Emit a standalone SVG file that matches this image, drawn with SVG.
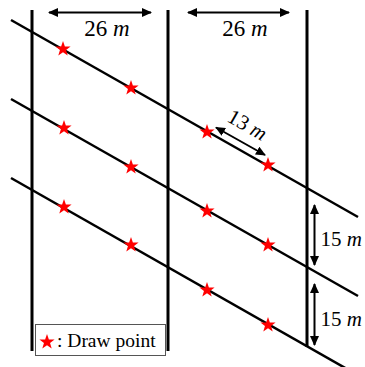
<svg xmlns="http://www.w3.org/2000/svg" width="365" height="367" viewBox="0 0 365 367">
<style>
.v{stroke:#000;stroke-width:3;fill:none}
.d{stroke:#000;stroke-width:2.5;fill:none}
.dim{stroke:#000;stroke-width:2;fill:none;marker-start:url(#ah);marker-end:url(#ah)}
.t{font-family:"Liberation Serif","Times New Roman",serif;fill:#000}
.star{fill:#ff0000}
</style>
<defs>
<marker id="ah" viewBox="0 0 10 10" refX="9" refY="5" markerWidth="5" markerHeight="4.5" orient="auto-start-reverse" markerUnits="strokeWidth" preserveAspectRatio="none">
<path d="M0,0 L10,5 L0,10 Z" fill="#000"/>
</marker>
<path id="st" d="M0,-8 L1.88,-2.59 L7.61,-2.47 L3.04,0.99 L4.7,6.47 L0,3.2 L-4.7,6.47 L-3.04,0.99 L-7.61,-2.47 L-1.88,-2.59 Z"/>
</defs>
<rect width="365" height="367" fill="#fff"/>
<g id="connectors">
<line class="v" x1="32" y1="10" x2="32" y2="351"/>
<line class="v" x1="168" y1="10" x2="168" y2="351"/>
<line class="v" x1="307" y1="10" x2="307" y2="347"/>
<line class="d" x1="11" y1="20" x2="358" y2="217"/>
<line class="d" x1="11" y1="99" x2="358" y2="296"/>
<line class="d" x1="11" y1="178" x2="347" y2="369"/>
<line class="dim" x1="49" y1="12.5" x2="151" y2="12.5"/>
<line class="dim" x1="188" y1="12.5" x2="289" y2="12.5"/>
<line class="dim" x1="216" y1="127.5" x2="265" y2="155"/>
<line class="dim" x1="314.5" y1="205" x2="314.5" y2="265"/>
<line class="dim" x1="314.5" y1="284" x2="314.5" y2="345"/>
</g>
<g id="stars" class="star">
<use href="#st" x="63" y="49"/>
<use href="#st" x="131" y="88"/>
<use href="#st" x="207" y="132"/>
<use href="#st" x="268" y="165"/>
<use href="#st" x="64" y="128"/>
<use href="#st" x="131" y="167"/>
<use href="#st" x="207" y="211"/>
<use href="#st" x="268" y="245"/>
<use href="#st" x="64" y="207"/>
<use href="#st" x="131" y="245"/>
<use href="#st" x="207" y="290"/>
<use href="#st" x="268" y="325"/>
</g>
<g id="labels">
<text class="t" x="107" y="35.5" font-size="23" text-anchor="middle">26 <tspan font-style="italic">m</tspan></text>
<text class="t" x="245" y="35.5" font-size="23" text-anchor="middle">26 <tspan font-style="italic">m</tspan></text>
<text class="t" font-size="21" text-anchor="middle" transform="translate(244,131) rotate(29.6)">13 <tspan font-style="italic">m</tspan></text>
<text class="t" x="320.5" y="246" font-size="21">15 <tspan font-style="italic">m</tspan></text>
<text class="t" x="320.5" y="326" font-size="21">15 <tspan font-style="italic">m</tspan></text>
</g>
<g id="legend">
<rect x="35.5" y="324.5" width="130" height="31" fill="#fff" stroke="#555" stroke-width="1"/>
<use href="#st" x="47" y="342" class="star"/>
<text class="t" x="57" y="347" font-size="19.5">: Draw point</text>
</g>
</svg>
